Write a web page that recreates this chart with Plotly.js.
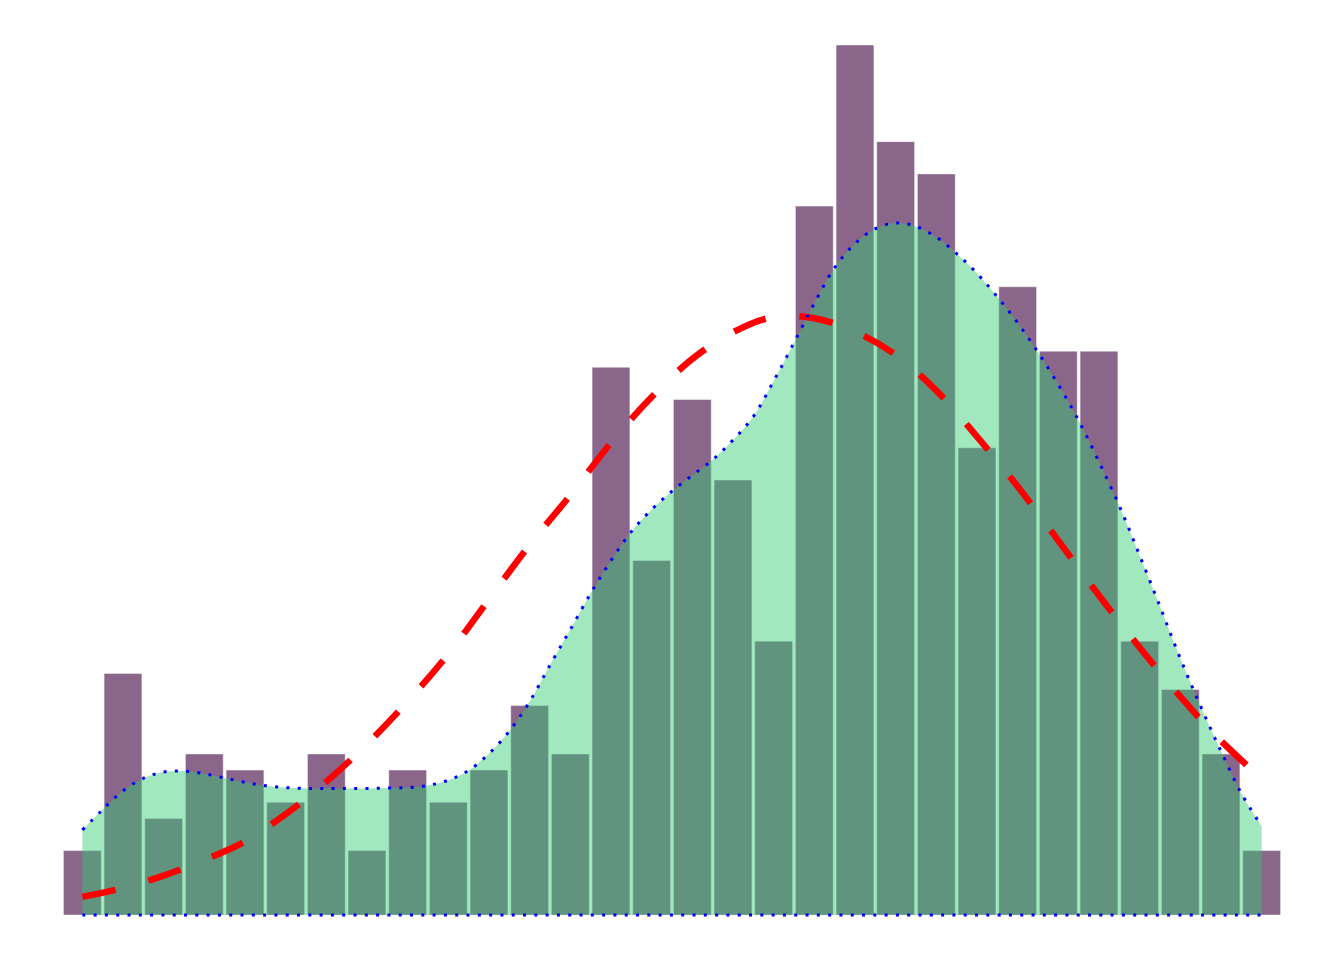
<!DOCTYPE html>
<html>
<head>
<meta charset="utf-8">
<script src="https://cdn.plot.ly/plotly-3.0.1.min.js"></script>
<style>html,body{margin:0;padding:0;background:#fff;}#chart{width:1344px;height:960px;}</style>
</head>
<body>
<div id="chart"></div>
<script>
// Histogram bins (bin index) and counts
const binIndex = [0,1,2,3,4,5,6,7,8,9,10,11,12,13,14,15,16,17,18,19,20,21,22,23,24,25,26,27,28,29];
const counts   = [4,15,6,10,9,7,10,4,9,7,9,13,10,34,22,32,27,17,44,54,48,46,29,39,35,35,17,14,10,4];

// Density estimate curve (scaled to counts)
const kdeX = [0,0.5,1,1.5,2,2.5,3,3.5,4,4.5,5,5.5,6,6.5,7,7.5,8,8.5,9,9.5,10,10.5,11,11.5,12,12.5,13,13.5,14,14.5,15,15.5,16,16.5,17,17.5,18,18.5,19,19.5,20,20.5,21,21.5,22,22.5,23,23.5,24,24.5,25,25.5,26,26.5,27,27.5,28,28.5,29];
const kdeY = [5.28,6.55,7.71,8.49,8.88,8.94,8.77,8.51,8.24,8.03,7.91,7.86,7.86,7.86,7.86,7.88,7.91,8.04,8.37,8.98,10.02,11.42,13.25,15.52,17.72,19.97,22.0,23.8,25.17,26.31,27.30,28.26,29.48,30.94,33.14,35.52,37.97,40.18,41.67,42.60,42.95,42.74,42.07,41.05,39.83,38.37,36.75,34.93,32.92,30.69,28.12,25.39,22.32,19.15,15.92,12.95,10.17,7.55,5.52];

// Normal fit curve (scaled to counts)
const normX = [0,1,2,3,4,5,6,7,8,9,10,11,12,13,14,15,16,17,18,19,20,21,22,23,24,25,26,27,28,29];
const normY = [1.13,1.68,2.45,3.42,4.57,6.26,8.27,10.61,13.26,16.2,19.6,22.98,26.06,29.32,32.15,34.52,36.17,37.12,37.04,36.21,34.77,32.55,29.69,26.60,23.24,19.83,16.61,13.55,10.81,8.47];

// Baseline
const baseX = [0,29];
const baseY = [0,0];

const traces = [
  {type:'bar', x:binIndex, y:counts,
   marker:{color:'#8B668B', line:{color:'rgba(255,255,255,0.45)', width:1}},
   hoverinfo:'none'},
  {type:'scatter', mode:'lines', x:kdeX, y:kdeY, fill:'tozeroy',
   fillcolor:'rgba(46,204,113,0.45)', line:{width:0, shape:'spline'}, hoverinfo:'none'},
  {type:'scatter', mode:'lines', x:normX, y:normY,
   line:{color:'#FF0000', width:6.5, dash:'34px,34px', shape:'spline'}, hoverinfo:'none'},
  {type:'scatter', mode:'lines', x:kdeX, y:kdeY,
   line:{color:'#0000FF', width:3, dash:'3px,8.3px', shape:'spline'}, hoverinfo:'none'},
  {type:'scatter', mode:'lines', x:baseX, y:baseY,
   line:{color:'#0000FF', width:3, dash:'3px,8.3px'}, hoverinfo:'none'}
];

const layout = {
  width:1344, height:960,
  margin:{l:62, r:62, t:45, b:43, pad:0},
  paper_bgcolor:'#ffffff', plot_bgcolor:'#ffffff',
  showlegend:false,
  bargap:0.07,
  xaxis:{visible:false, range:[-0.5,29.5], fixedrange:true},
  yaxis:{visible:false, range:[-0.12,54], fixedrange:true}
};

Plotly.newPlot('chart', traces, layout, {displayModeBar:false, staticPlot:true});
</script>
</body>
</html>
